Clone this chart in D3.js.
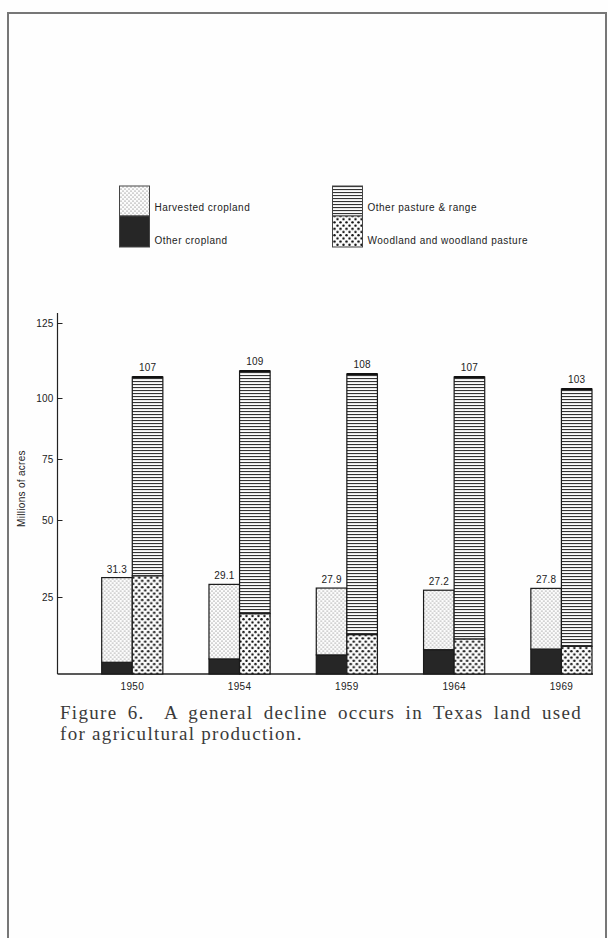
<!DOCTYPE html>
<html>
<head>
<meta charset="utf-8">
<script src="https://cdn.jsdelivr.net/npm/d3@7"></script>
<style>
  html, body { margin: 0; padding: 0; background: #fefefe; }
  svg { display: block; }
</style>
</head>
<body>
<svg id="chart" width="608" height="938"></svg>
<script>
// ---------------- DATA ----------------
const years = ["1950", "1954", "1959", "1964", "1969"];
const otherCropland = [3.8, 4.9, 6.2, 7.9, 8.1];
const harvestedCropland = [27.5, 24.2, 21.7, 19.3, 19.7];
const woodlandPasture = [31.9, 19.6, 12.8, 11.4, 9.0];
const otherPastureRange = [75.1, 89.4, 95.2, 95.6, 94.0];
const yTickValues = [25, 50, 75, 100, 125];
const legendLeft = ["Harvested cropland", "Other cropland"];
const legendRight = ["Other pasture & range", "Woodland and woodland pasture"];
const yAxisTitle = "Millions of acres";
const captionLines = [
  "Figure 6.  A general decline occurs in Texas land used",
  "for agricultural production."
];

// ---------------- SETUP ----------------
const svg = d3.select("#chart");
const ink = "#222";
const sans = "'Liberation Sans', Arial, sans-serif";
const serif = "'Liberation Serif', 'Times New Roman', serif";

// page frame
svg.append("path")
  .attr("d", "M8,940 L8,13 L606,13 L606,940")
  .attr("fill", "none").attr("stroke", "#777").attr("stroke-width", 2);

// patterns
const defs = svg.append("defs");
const pStip = defs.append("pattern").attr("id", "stipple")
  .attr("patternUnits", "userSpaceOnUse").attr("width", 4).attr("height", 4);
pStip.append("rect").attr("width", 4).attr("height", 4).attr("fill", "#fcfcfc");
pStip.append("circle").attr("cx", 1).attr("cy", 1).attr("r", 0.55).attr("fill", "#555");
pStip.append("circle").attr("cx", 3).attr("cy", 3).attr("r", 0.55).attr("fill", "#555");

const pDots = defs.append("pattern").attr("id", "dots")
  .attr("patternUnits", "userSpaceOnUse").attr("width", 6).attr("height", 6.4);
pDots.append("rect").attr("width", 6).attr("height", 6.4).attr("fill", "#fcfcfc");
pDots.append("circle").attr("cx", 1.5).attr("cy", 1.6).attr("r", 1.25).attr("fill", "#111");
pDots.append("circle").attr("cx", 4.5).attr("cy", 4.8).attr("r", 1.25).attr("fill", "#111");

const pLines = defs.append("pattern").attr("id", "hlines")
  .attr("patternUnits", "userSpaceOnUse").attr("width", 6).attr("height", 3);
pLines.append("rect").attr("width", 6).attr("height", 3).attr("fill", "#fcfcfc");
pLines.append("rect").attr("y", 0).attr("width", 6).attr("height", 1.1).attr("fill", "#333");

const fills = {
  harvested: "url(#stipple)",
  other: "#262626",
  pasture: "url(#hlines)",
  woodland: "url(#dots)"
};

// ---------------- SCALES ----------------
const y = d3.scaleLinear()
  .domain([0, 25, 50, 75, 100, 125])
  .range([674, 597, 520, 459, 398, 323]);

const axisX = 57.5;
const x = d3.scaleBand().domain(years).range([101.7, 592]).paddingInner(0.43).paddingOuter(0);
const xSub = d3.scaleBand().domain(["crop", "land"]).range([0, x.bandwidth()]).padding(0);

// ---------------- AXES ----------------
const yAxis = d3.axisLeft(y).tickValues(yTickValues).tickSizeInner(-5).tickSizeOuter(0).tickPadding(4);
const gy = svg.append("g").attr("transform", `translate(${axisX},0)`).call(yAxis);
gy.select(".domain").remove();
gy.selectAll(".tick line").attr("stroke", ink).attr("stroke-width", 1);
gy.selectAll(".tick text").attr("font-family", sans).attr("font-size", 10)
  .attr("letter-spacing", 0.2).attr("fill", ink);
gy.append("line").attr("x1", 0).attr("x2", 0).attr("y1", y(0)).attr("y2", y(125) - 10)
  .attr("stroke", ink).attr("stroke-width", 1.2);

// baseline
svg.append("line").attr("x1", axisX).attr("x2", x.range()[1] + 1)
  .attr("y1", y(0)).attr("y2", y(0)).attr("stroke", ink).attr("stroke-width", 1.3);

// y axis title
svg.append("text")
  .attr("transform", `translate(25,${(y(50) + y(75)) / 2 - 1}) rotate(-90)`)
  .attr("text-anchor", "middle").attr("font-family", sans).attr("font-size", 10)
  .attr("letter-spacing", 0.3).attr("fill", ink).text(yAxisTitle);

// x labels
svg.append("g").selectAll("text").data(years).join("text")
  .attr("x", d => x(d) + x.bandwidth() / 2).attr("y", y(0) + 16)
  .attr("text-anchor", "middle").attr("font-family", sans).attr("font-size", 10)
  .attr("letter-spacing", 0.3).attr("fill", ink).text(d => d);

// ---------------- BARS ----------------
const bw = xSub.bandwidth();
const groups = svg.append("g").selectAll("g").data(years).join("g")
  .attr("transform", d => `translate(${x(d)},0)`);

function seg(g, xKey, v0, v1, fill) {
  g.append("rect")
    .attr("x", xSub(xKey)).attr("width", bw)
    .attr("y", y(v1)).attr("height", y(v0) - y(v1))
    .attr("fill", fill).attr("stroke", "#1a1a1a").attr("stroke-width", 1.2);
}

groups.each(function (d, i) {
  const g = d3.select(this);
  const oc = otherCropland[i], hc = harvestedCropland[i];
  const wp = woodlandPasture[i], pr = otherPastureRange[i];
  seg(g, "crop", 0, oc, fills.other);
  seg(g, "crop", oc, oc + hc, fills.harvested);
  seg(g, "land", 0, wp, fills.woodland);
  seg(g, "land", wp, wp + pr, fills.pasture);
  g.append("line").attr("x1", xSub("land")).attr("x2", xSub("land") + bw)
    .attr("y1", y(wp + pr)).attr("y2", y(wp + pr)).attr("stroke", "#111").attr("stroke-width", 2);
  g.append("text")
    .attr("x", xSub("crop") + bw / 2).attr("y", y(oc + hc) - 5)
    .attr("text-anchor", "middle").attr("font-family", sans).attr("font-size", 10)
    .attr("letter-spacing", 0.2).attr("fill", ink).text(d3.format(".1f")(oc + hc));
  g.append("text")
    .attr("x", xSub("land") + bw / 2).attr("y", y(wp + pr) - 6)
    .attr("text-anchor", "middle").attr("font-family", sans).attr("font-size", 10)
    .attr("letter-spacing", 0.2).attr("fill", ink).text(d3.format(".0f")(wp + pr));
});

// ---------------- LEGEND ----------------
const legend = svg.append("g");
function swatch(x0, top, fillTop, fillBottom, labels) {
  legend.append("rect").attr("x", x0).attr("y", top).attr("width", 30).attr("height", 30)
    .attr("fill", fillTop).attr("stroke", "#444").attr("stroke-width", 1);
  legend.append("rect").attr("x", x0).attr("y", top + 30).attr("width", 30).attr("height", 31)
    .attr("fill", fillBottom).attr("stroke", "#444").attr("stroke-width", 1);
  legend.append("text").attr("x", x0 + 35).attr("y", top + 25)
    .attr("font-family", sans).attr("font-size", 10).attr("letter-spacing", 0.5)
    .attr("fill", ink).text(labels[0]);
  legend.append("text").attr("x", x0 + 35).attr("y", top + 58)
    .attr("font-family", sans).attr("font-size", 10).attr("letter-spacing", 0.5)
    .attr("fill", ink).text(labels[1]);
}
swatch(119.5, 186, fills.harvested, fills.other, legendLeft);
swatch(332.5, 186, fills.pasture, fills.woodland, legendRight);

// ---------------- CAPTION ----------------
const capX = 60, capRight = 582;
captionLines.forEach((line, i) => {
  const t = svg.append("text")
    .attr("x", capX).attr("y", 719 + i * 21)
    .attr("font-family", serif).attr("font-size", 19)
    .attr("fill", "#3a3a3a").attr("letter-spacing", 1.3)
    .style("white-space", "pre").text(line);
  if (i === 0) {
    const natural = t.node().getComputedTextLength();
    const spaces = (line.match(/ /g) || []).length;
    const extra = (capRight - capX - natural) / spaces;
    t.attr("word-spacing", extra);
  }
});
</script>
</body>
</html>
